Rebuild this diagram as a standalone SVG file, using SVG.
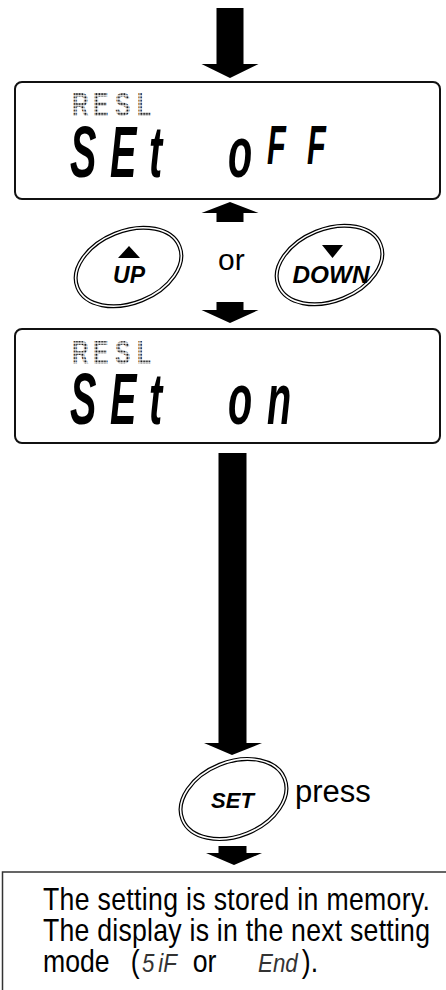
<svg xmlns="http://www.w3.org/2000/svg" width="446" height="990" viewBox="0 0 446 990">
<style>
.box{fill:#fff;stroke:#111;stroke-width:2}
.seg{font-family:"Liberation Sans",Arial,sans-serif;font-style:italic;font-weight:bold;fill:#000}
.dm{font-family:"Liberation Sans",Arial,sans-serif;font-weight:bold;font-size:33px;fill:url(#dots)}
.btnO{fill:#fff;stroke:#000;stroke-width:4}
.btnI{fill:none;stroke:#fff;stroke-width:1.6}
.btxt{font-family:"Liberation Sans",Arial,sans-serif;font-weight:bold;font-style:italic;fill:#000;text-anchor:middle}
.lbl{font-family:"Liberation Sans",Arial,sans-serif;fill:#000}
.arrow{fill:#000}
.seg2{font-family:"Liberation Sans",Arial,sans-serif;font-style:italic;fill:#333}
</style>
<defs>
<pattern id="dots" patternUnits="userSpaceOnUse" width="4" height="3.3">
<rect x="0.6" y="0.6" width="2.6" height="2.1" fill="#111"/>
</pattern>
</defs>

<g id="connectors">
<path class="arrow" d="M216.5 8H243.5V64H258.5L230 78L201.5 64H216.5Z"/>
<path class="arrow" d="M216.5 222H243.5V213H258.5L230 202L201.5 213H216.5Z"/>
<path class="arrow" d="M216.5 302H243.5V310H258.5L230 323L201.5 310H216.5Z"/>
<path class="arrow" d="M218.5 453H246.5V743H262L232 755L204 743H218.5Z"/>
<path class="arrow" d="M218.5 846H246.5V853H262L234 865L206 853H218.5Z"/>
</g>

<g id="display1">
<rect class="box" x="15" y="82" width="425" height="117" rx="7"/>
<text class="dm" transform="scale(0.7,1)" y="116"><tspan x="102.9">R</tspan><tspan x="132.9">E</tspan><tspan x="164.3">S</tspan><tspan x="195.7">L</tspan></text>
<text class="seg" font-size="72" transform="scale(0.55,1)" y="177"><tspan x="127.3">S</tspan><tspan x="200">E</tspan><tspan x="270.9">t</tspan><tspan x="414.5">o</tspan><tspan x="485.5" y="164" font-size="56">F</tspan><tspan x="558.2" y="164" font-size="56">F</tspan></text>
</g>

<g id="btn-up">
<ellipse class="btnO" cx="128.5" cy="267" rx="55" ry="36" transform="rotate(-22 128.5 267)"/>
<ellipse class="btnI" cx="128.5" cy="267" rx="55" ry="36" transform="rotate(-22 128.5 267)"/>
<polygon points="118,258 140,258 129,246" fill="#000"/>
<text class="btxt" x="129" y="283" font-size="23">UP</text>
</g>

<g id="or-label">
<text class="lbl" x="218" y="270" font-size="30">or</text>
</g>

<g id="btn-down">
<ellipse class="btnO" cx="329.5" cy="265" rx="55" ry="36" transform="rotate(-22 329.5 265)"/>
<ellipse class="btnI" cx="329.5" cy="265" rx="55" ry="36" transform="rotate(-22 329.5 265)"/>
<polygon points="322,245 343,245 332.5,258" fill="#000"/>
<text class="btxt" x="331" y="283" font-size="23" textLength="77" lengthAdjust="spacingAndGlyphs">DOWN</text>
</g>

<g id="display2">
<rect class="box" x="15" y="329" width="425" height="114" rx="7"/>
<text class="dm" transform="scale(0.7,1)" y="364"><tspan x="102.9">R</tspan><tspan x="132.9">E</tspan><tspan x="164.3">S</tspan><tspan x="195.7">L</tspan></text>
<text class="seg" font-size="72" transform="scale(0.55,1)" y="424"><tspan x="127.3">S</tspan><tspan x="200">E</tspan><tspan x="270.9">t</tspan><tspan x="414.5">o</tspan><tspan x="485.5">n</tspan></text>
</g>

<g id="btn-set">
<ellipse class="btnO" cx="233.5" cy="799" rx="55" ry="37" transform="rotate(-22 233.5 799)"/>
<ellipse class="btnI" cx="233.5" cy="799" rx="55" ry="37" transform="rotate(-22 233.5 799)"/>
<text class="btxt" x="232.5" y="808" font-size="22">SET</text>
</g>

<g id="press-label">
<text class="lbl" x="295" y="802" font-size="31">press</text>
</g>

<g id="note">
<rect x="2.5" y="872" width="460" height="130" fill="#fff" stroke="#333" stroke-width="1.5"/>
<g transform="scale(0.86,1)">
<text class="lbl" font-size="31" x="50" y="910" textLength="450" lengthAdjust="spacing">The setting is stored in memory.</text>
<text class="lbl" font-size="31" x="50" y="941" textLength="450" lengthAdjust="spacing">The display is in the next setting</text>
<text class="lbl" font-size="31" y="972"><tspan x="50">mode</tspan><tspan x="152">(</tspan><tspan class="seg2" font-size="26" x="165">5</tspan><tspan class="seg2" font-size="26" x="184">iF</tspan><tspan x="224">or</tspan><tspan class="seg2" font-size="26" x="300">End</tspan><tspan x="351">).</tspan></text>
</g>
</g>
</svg>
